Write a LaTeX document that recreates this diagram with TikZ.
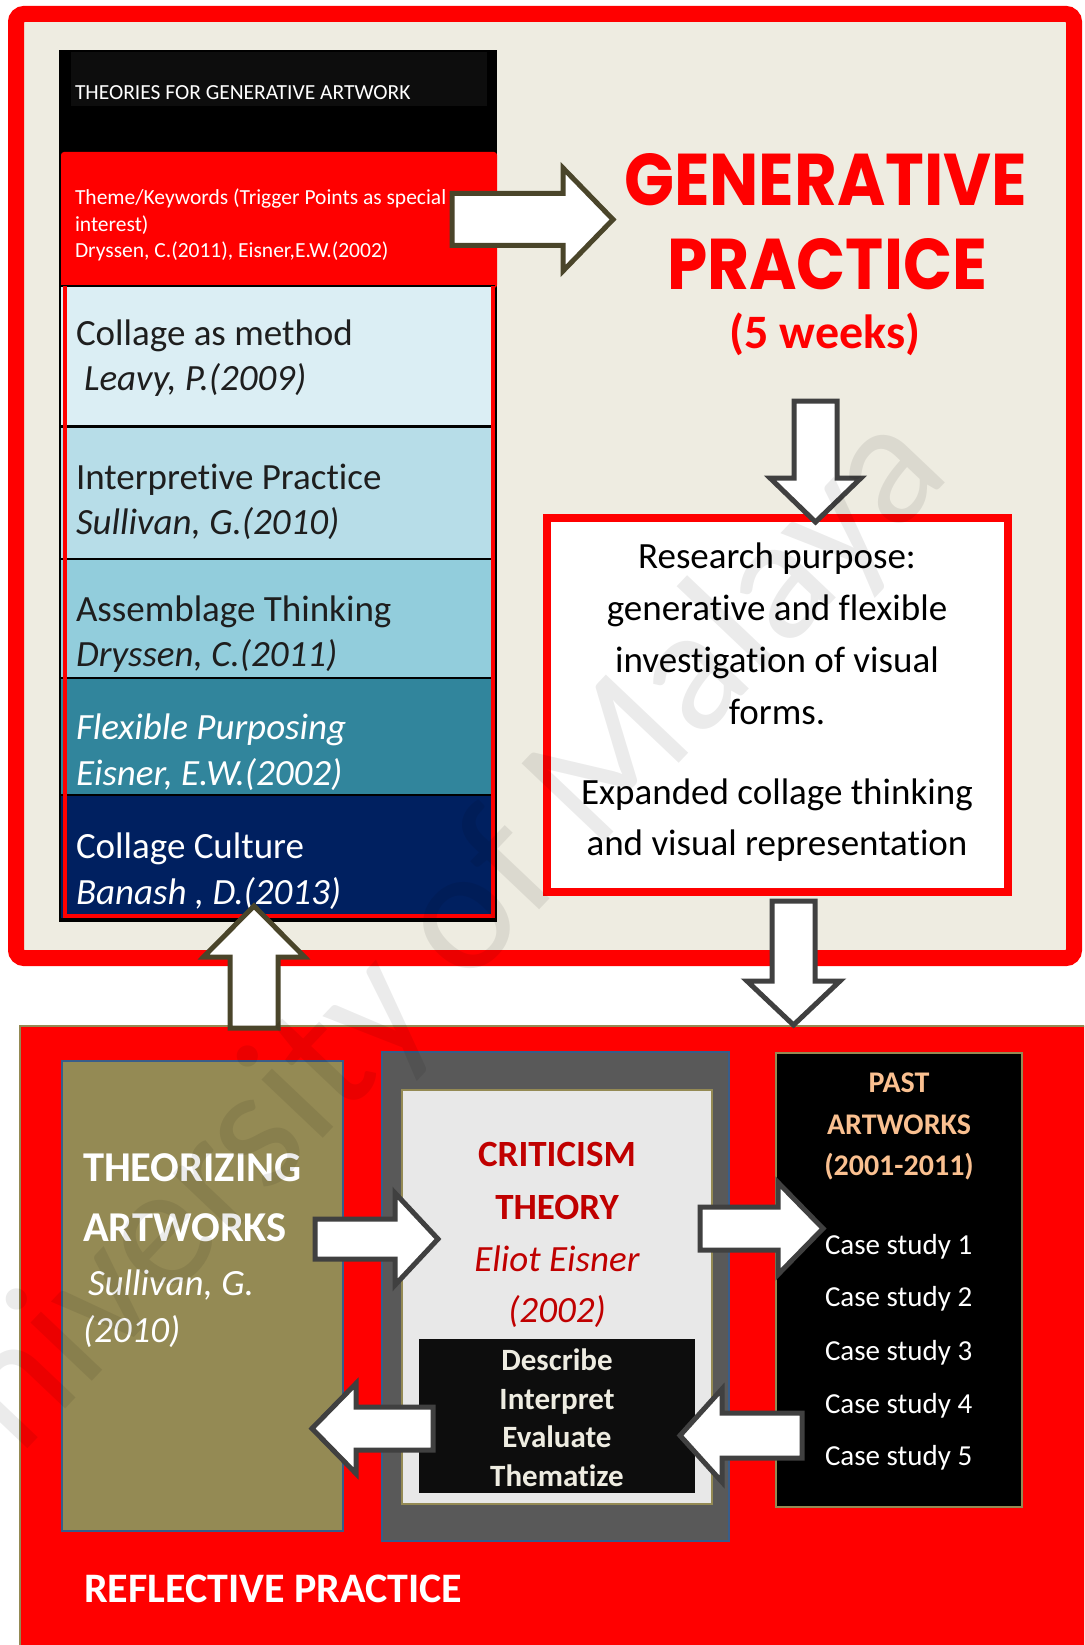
\documentclass[tikz,border=0pt]{standalone}
\usepackage{fontspec}
\usepackage{graphicx}
\setmainfont{Carlito}[Ligatures=NoCommon]
\newfontfamily\geofont{Poppins}
\usetikzlibrary{calc,fit}

\definecolor{framered}{HTML}{FF0000}
\definecolor{paper}{HTML}{EEECE1}
\definecolor{olive}{HTML}{948A54}
\definecolor{olivedark}{HTML}{4A452A}
\definecolor{arrowgray}{HTML}{404040}
\definecolor{steelblue}{HTML}{385D8A}
\definecolor{rowA}{HTML}{DBEEF4}
\definecolor{rowB}{HTML}{B7DDE8}
\definecolor{rowC}{HTML}{92CDDC}
\definecolor{rowD}{HTML}{31859C}
\definecolor{rowE}{HTML}{002060}
\definecolor{slate}{HTML}{595959}
\definecolor{mist}{HTML}{E8E8E8}
\definecolor{ink}{HTML}{0D0D0D}
\definecolor{peach}{HTML}{FAC090}
\definecolor{crimson}{HTML}{C00000}
\definecolor{cream}{HTML}{EEECE1}
\definecolor{textdark}{HTML}{1E1E1E}

% block arrow: [style]{tail}{tip}{half shaft width}{half head width}{head length}
\newcommand{\blkarrow}[6][]{%
  \path ($(#3)!#6!(#2)$) coordinate (ba-base);
  \draw[#1] ($(#2)!#4!90:(#3)$) -- ($(ba-base)!#4!-90:(#2)$)
    -- ($(ba-base)!#5!-90:(#2)$) -- (#3) -- ($(ba-base)!#5!90:(#2)$)
    -- ($(ba-base)!#4!90:(#2)$) -- ($(#2)!#4!-90:(#3)$) -- cycle;
}

\tikzset{
  area/.style={rectangle, inner sep=0pt, outer sep=0pt},
  txt/.style={inner sep=0pt, outer sep=0pt},
  rowtext/.style={txt, anchor=base west, font=\fontsize{37}{44}\selectfont},
  purposetext/.style={txt, anchor=base, font=\fontsize{37}{44}\selectfont, text=black},
  smalltext/.style={txt, anchor=base west, text=white, font=\fontsize{21.5}{26}\selectfont},
  grayarrow/.style={draw=arrowgray, fill=white, line width=5pt, line join=miter},
  olivearrow/.style={draw=olivedark, fill=white, line width=5pt, line join=miter},
}

\begin{document}
\begin{tikzpicture}[x=1pt, y=-1pt]
\useasboundingbox (0,0) rectangle (1084,1645);
\clip (0,0) rectangle (1084,1645);
\fill[white] (0,0) rectangle (1084,1645);

% ---------- generative practice frame ----------
\node (gen) [area, draw=framered, line width=16pt, fill=paper, rounded corners=8pt,
  fit={(16,14) (1074,958)}] {};

% theories column
\node (col) [area, fill=black, fit={(59,50) (497,922)}] {};
\node (ttl) [area, fill=ink, fit={(71,52) (487,106)}] {};
\node[smalltext] (ttltext) at (75,100) {THEORIES FOR GENERATIVE ARTWORK};

\node (theme) [area, fill=framered, rounded corners=3pt, fit={(61,152) (497,288)}] {};
\node[smalltext] (themeA) at (75,205) {Theme/Keywords (Trigger Points as special};
\node[smalltext] (themeB) at (75,231.5) {interest)};
\node[smalltext] (themeC) at (75,258) {Dryssen, C.(2011), Eisner,E.W.(2002)};

\node (row1) [area, fill=rowA, fit={(61,286) (495,426.5)}] {};
\node (row2) [area, fill=rowB, fit={(61,426.5) (495,559)}] {};
\node (row3) [area, fill=rowC, fit={(61,559) (495,678)}] {};
\node (row4) [area, fill=rowD, fit={(61,678) (495,795)}] {};
\node (row5) [area, fill=rowE, fit={(61,795) (495,918)}] {};
\foreach \r in {row1,row2,row3,row4}
  \draw[black, line width=2.5pt] (\r.south west) -- (\r.south east);
\draw[black, line width=2.5pt] (row1.north west) -- (row1.north east);
\draw[framered, line width=4.5pt] (65,286) -- (65,916) -- (493,916) -- (493,286);

\node[rowtext, text=textdark] (r1a) at (76,345.5) {Collage as method};
\node[rowtext, text=textdark] (r1b) at (84,390) {\itshape Leavy, P.(2009)};
\node[rowtext, text=textdark] (r2a) at (76,489) {Interpretive Practice};
\node[rowtext, text=textdark] (r2b) at (76,534) {\itshape Sullivan, G.(2010)};
\node[rowtext, text=textdark] (r3a) at (76,621) {Assemblage Thinking};
\node[rowtext, text=textdark] (r3b) at (76,666) {\itshape Dryssen, C.(2011)};
\node[rowtext, text=white] (r4a) at (76,739) {\itshape Flexible Purposing};
\node[rowtext, text=white] (r4b) at (76,785) {\itshape Eisner, E.W.(2002)};
\node[rowtext, text=white] (r5a) at (76,858) {Collage Culture};
\node[rowtext, text=white] (r5b) at (76,904) {\itshape Banash , D.(2013)};

% heading
\node[txt, anchor=base west, text=framered] (genA) at (624,205.5)
  {\resizebox{403pt}{52pt}{\geofont\bfseries GENERATIVE}};
\node[txt, anchor=base west, text=framered] (genB) at (667,289.5)
  {\resizebox{320pt}{51pt}{\geofont\bfseries PRACTICE}};
\node[txt, anchor=base, text=framered, font=\fontsize{48}{56}\selectfont\bfseries] (weeks)
  at (825,348) {(5 weeks)};

% research purpose
\node (purpose) [area, draw=framered, line width=8pt, fill=white,
  fit={(547,518) (1008,892)}] {};
\node[purposetext] (p1) at (777,568) {Research purpose:};
\node[purposetext] (p2) at (777,620) {generative and flexible};
\node[purposetext] (p3) at (777,672) {investigation of visual};
\node[purposetext] (p4) at (777,724) {forms.};
\node[purposetext] (p5) at (777,804) {Expanded collage thinking};
\node[purposetext] (p6) at (777,855) {and visual representation};

% ---------- reflective practice panel ----------
\node (refl) [area, fill=framered, draw=olive, line width=2pt,
  fit={(20,1026) (1100,1660)}] {};

\node (theo) [area, fill=olive, draw=steelblue, line width=2pt,
  fit={(62,1061) (343,1531)}] {};
\node[txt, anchor=base west, text=white, font=\fontsize{42.5}{50}\selectfont\bfseries] (theoA)
  at (83,1181) {THEORIZING};
\node[txt, anchor=base west, text=white, font=\fontsize{42.5}{50}\selectfont\bfseries] (theoB)
  at (83,1241) {ARTWORKS};
\node[txt, anchor=base west, text=white, font=\fontsize{37}{44}\selectfont\itshape] (theoC)
  at (88,1295) {Sullivan, G.};
\node[txt, anchor=base west, text=white, font=\fontsize{37}{44}\selectfont\itshape] (theoD)
  at (83,1342) {(2010)};

\node (crit) [area, fill=slate, draw=steelblue, line width=2pt,
  fit={(382,1052) (729,1541)}] {};
\node (critin) [area, fill=mist, draw=olive, line width=2.5pt,
  fit={(402,1090) (712,1504)}] {};
\node[txt, anchor=base, text=crimson, font=\fontsize{37}{44}\selectfont\bfseries] (critA)
  at (557,1166) {CRITICISM};
\node[txt, anchor=base, text=crimson, font=\fontsize{37}{44}\selectfont\bfseries] (critB)
  at (557,1219) {THEORY};
\node[txt, anchor=base, text=crimson, font=\fontsize{37}{44}\selectfont\itshape] (critC)
  at (557,1271) {Eliot Eisner};
\node[txt, anchor=base, text=crimson, font=\fontsize{37}{44}\selectfont\itshape] (critD)
  at (557,1322) {(2002)};

\node (steps) [area, fill=ink, fit={(419,1339) (695,1493)}] {};
\foreach \w/\yy/\nm in {Describe/1370/sA, Interpret/1409/sB, Evaluate/1447/sC, Thematize/1486/sD}
  \node[txt, anchor=base, text=cream, font=\fontsize{31}{38}\selectfont\bfseries] (\nm)
    at (557,\yy) {\w};

\node (past) [area, fill=black, draw=olive, line width=2.5pt,
  fit={(776,1053) (1022,1507)}] {};
\node[txt, anchor=base, text=peach, font=\fontsize{30}{36}\selectfont\bfseries] (pastA)
  at (899,1092) {PAST};
\node[txt, anchor=base, text=peach, font=\fontsize{30}{36}\selectfont\bfseries] (pastB)
  at (899,1134) {ARTWORKS};
\node[txt, anchor=base, text=peach, font=\fontsize{30}{36}\selectfont\bfseries] (pastC)
  at (899,1175) {(2001-2011)};
\foreach \k/\yy in {1/1254, 2/1306, 3/1360, 4/1413, 5/1465}
  \node[txt, anchor=base west, text=white, font=\fontsize{29}{35}\selectfont] (case\k)
    at (825,\yy) {Case study \k};

\node[txt, anchor=base west, text=white, font=\fontsize{42}{50}\selectfont\bfseries] (refltitle)
  at (84,1602) {REFLECTIVE PRACTICE};

% ---------- block arrows ----------
\coordinate (a1s) at (452,219.5);   \coordinate (a1e) at (613,219.5);
\coordinate (a2s) at (815.5,401);   \coordinate (a2e) at (815.5,522);
\coordinate (a3s) at (793.5,901);   \coordinate (a3e) at (793.5,1025);
\coordinate (a4s) at (254,1028);    \coordinate (a4e) at (254,906);
\coordinate (a5s) at (315,1239);    \coordinate (a5e) at (438,1239);
\coordinate (a6s) at (433,1428.5);  \coordinate (a6e) at (312,1428.5);
\coordinate (a7s) at (700,1228.5);  \coordinate (a7e) at (823,1228.5);
\coordinate (a8s) at (802,1435.5);  \coordinate (a8e) at (680,1435.5);

\blkarrow[olivearrow]{a1s}{a1e}{26pt}{51.5pt}{50pt}
\blkarrow[grayarrow]{a2s}{a2e}{21.5pt}{45.5pt}{44pt}
\blkarrow[grayarrow]{a3s}{a3e}{21.5pt}{46.5pt}{44pt}
\blkarrow[olivearrow]{a4s}{a4e}{24pt}{50.5pt}{51pt}
\blkarrow[grayarrow]{a5s}{a5e}{20pt}{46pt}{43pt}
\blkarrow[grayarrow]{a6s}{a6e}{21.5pt}{45pt}{44pt}
\blkarrow[grayarrow]{a7s}{a7e}{21.5pt}{46pt}{45pt}
\blkarrow[grayarrow]{a8s}{a8e}{22.5pt}{46.5pt}{42pt}

% ---------- watermark ----------
\node[txt, rotate=46.5, text=black, opacity=0.08, font=\fontsize{177}{177}\selectfont]
  (wm) at (413,975) {University of Malaya};
\end{tikzpicture}
\end{document}
